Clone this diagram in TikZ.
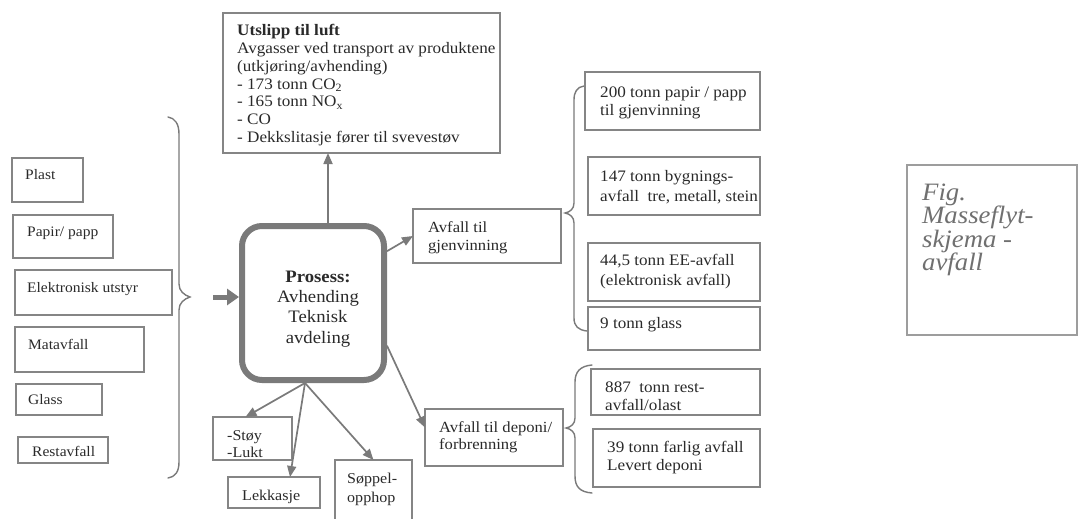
\documentclass[tikz,border=0pt]{standalone}
\usepackage{fontspec}
\setmainfont[FakeStretch=1.07]{Liberation Serif}
\usetikzlibrary{arrows.meta,calc}
\definecolor{bordergray}{HTML}{858585}
\definecolor{txtc}{HTML}{2A2A2A}
\definecolor{procgray}{HTML}{7A7A7A}
\definecolor{figgray}{HTML}{707070}
\newcommand\fr{\rule{0pt}{.72em}}
\begin{document}
\begin{tikzpicture}[x=1pt,y=-1pt,
  box/.style={draw=bordergray, line width=1.4pt, anchor=north west, inner sep=0pt, outer sep=0pt},
  txtn/.style={anchor=north west, inner sep=0pt, align=left, text=txtc},
  arr/.style={draw=procgray, line width=1.7pt, -{Triangle[length=11pt,width=9pt]}, fill=procgray},
  brace/.style={draw=procgray, line width=1.4pt, line cap=round}]
\fill[white] (0,0) rectangle (1079,519);
\useasboundingbox (0,0) rectangle (1079,519);

% ---- top box: emissions
\node[box, minimum width=277pt, minimum height=140pt] (luft) at (223,13) {};
\node[txtn, font=\fontsize{16}{17.8}\selectfont] (luftt) at (237,24)
 {\fr\textbf{Utslipp til luft}\\Avgasser ved transport av produktene\\(utkjøring/avhending)\\- 173 tonn CO\textsubscript{2}\\- 165 tonn NO\textsubscript{x}\\- CO\\- Dekkslitasje fører til svevestøv};

% ---- process box
\node[draw=procgray, line width=6pt, rounded corners=20pt, minimum width=142pt, minimum height=154pt, inner sep=0pt] (proc) at (313,303) {};
\node[align=center, text=txtc, font=\fontsize{17.5}{20.3}\selectfont, inner sep=0pt] (proct) at (318,309)
 {\textbf{Prosess:}\\Avhending\\Teknisk\\avdeling};

% ---- left input boxes
\node[box, minimum width=71pt, minimum height=44pt] (plast) at (12,158) {};
\node[txtn, font=\fontsize{14.5}{17}\selectfont] (plastt) at (25,169.3) {\fr Plast};
\node[box, minimum width=100pt, minimum height=43pt] (papir) at (13,215) {};
\node[txtn, font=\fontsize{14.5}{17}\selectfont] (papirt) at (27,226.3) {\fr Papir/ papp};
\node[box, minimum width=157pt, minimum height=45pt] (elek) at (15,270) {};
\node[txtn, font=\fontsize{14.5}{17}\selectfont] (elekt) at (27,282.3) {\fr Elektronisk utstyr};
\node[box, minimum width=129pt, minimum height=45pt] (mat) at (15,327) {};
\node[txtn, font=\fontsize{14.5}{17}\selectfont] (matt) at (28,339.3) {\fr Matavfall};
\node[box, minimum width=86pt, minimum height=31pt] (glass) at (16,384) {};
\node[txtn, font=\fontsize{14.5}{17}\selectfont] (glasst) at (28,394.3) {\fr Glass};
\node[box, minimum width=90pt, minimum height=26pt] (rest) at (18,437) {};
\node[txtn, font=\fontsize{14.5}{17}\selectfont] (restt) at (32,446.3) {\fr Restavfall};

% left brace
\draw[brace] (168,117) .. controls (175,118) and (179,124) .. (179,134) -- (179,284)
  .. controls (179,291) and (184,295) .. (190,297)
  .. controls (184,299) and (179,303) .. (179,310) -- (179,462)
  .. controls (179,472) and (175,477) .. (168,478);

% input arrow
\draw[draw=procgray, line width=5pt, -{Triangle[length=12pt,width=16pt]}, fill=procgray]
  ([xshift=-26pt,yshift=6pt]proc.west) -- ([yshift=6pt]proc.west);

% arrow up
\draw[arr] ([xshift=15pt]proc.north) -- ([xshift=15pt]proc.north |- luft.south);

% ---- recycling
\node[box, minimum width=148pt, minimum height=54pt] (gjen) at (413,209) {};
\node[txtn, font=\fontsize{15.5}{18}\selectfont] (gjent) at (428,221) {\fr Avfall til\\gjenvinning};
\draw[arr] (proc.35) -- (gjen.west);

\draw[brace] (584,86) .. controls (577,87) and (574,92) .. (574,100) -- (574,203)
  .. controls (574,209) and (570,212) .. (565,213)
  .. controls (570,214) and (574,217) .. (574,223) -- (574,318)
  .. controls (574,326) and (578,330) .. (587,331);

\node[box, minimum width=175pt, minimum height=58pt] (p200) at (585,72) {};
\node[txtn, font=\fontsize{16}{18}\selectfont] (p200t) at (600,86) {\fr 200 tonn papir / papp\\til gjenvinning};
\node[box, minimum width=172pt, minimum height=58pt] (b147) at (588,157) {};
\node[txtn, font=\fontsize{16}{20}\selectfont] (b147t) at (600,170) {\fr 147 tonn bygnings-\\avfall\ \ tre, metall, stein};
\node[box, minimum width=172pt, minimum height=58pt] (ee) at (588,243) {};
\node[txtn, font=\fontsize{16}{20}\selectfont] (eet) at (600,254) {\fr 44,5 tonn EE-avfall\\(elektronisk avfall)};
\node[box, minimum width=172pt, minimum height=43pt] (gl9) at (588,307) {};
\node[txtn, font=\fontsize{16}{18}\selectfont] (gl9t) at (600,317) {\fr 9 tonn glass};

% ---- landfill / incineration
\node[box, minimum width=138pt, minimum height=57pt] (dep) at (425,409) {};
\node[txtn, font=\fontsize{15.5}{17}\selectfont] (dept) at (439,421) {\fr Avfall til deponi/\\forbrenning};
\draw[arr] (proc.-30) -- ([yshift=10pt]dep.west);

\draw[brace] (592,365) .. controls (580,366) and (575,372) .. (575,382) -- (575,418)
  .. controls (575,424) and (571,427) .. (566,428)
  .. controls (571,429) and (575,432) .. (575,438) -- (575,476)
  .. controls (575,487) and (580,492) .. (592,493);

\node[box, minimum width=169pt, minimum height=46pt] (r887) at (591,369) {};
\node[txtn, font=\fontsize{16}{18}\selectfont] (r887t) at (605,381) {\fr 887\ \ tonn rest-\\avfall/olast};
\node[box, minimum width=167pt, minimum height=58pt] (r39) at (593,429) {};
\node[txtn, font=\fontsize{16}{18}\selectfont] (r39t) at (607,441) {\fr 39 tonn farlig avfall\\Levert deponi};

% ---- bottom boxes
\node[box, minimum width=79pt, minimum height=43pt] (stoy) at (213,417) {};
\node[txtn, font=\fontsize{15}{17}\selectfont] (stoyt) at (227,429) {\fr -Støy\\-Lukt};
\node[box, minimum width=92pt, minimum height=31pt] (lekk) at (228,477) {};
\node[txtn, font=\fontsize{15}{17}\selectfont] (lekkt) at (242,489) {\fr Lekkasje};
\node[box, minimum width=77pt, minimum height=63pt] (sopp) at (335,460) {};
\node[txtn, font=\fontsize{15}{19}\selectfont] (soppt) at (347,472) {\fr Søppel-\\opphop};

\coordinate (po) at ([xshift=-8pt]proc.south);
\draw[arr] (po) -- ([xshift=-7pt]stoy.north);
\draw[arr] (po) -- ([xshift=16pt]lekk.north);
\draw[arr] (po) -- (sopp.north);

% ---- figure caption box
\node[box, draw=bordergray!80, line width=1.2pt, minimum width=170pt, minimum height=170pt] (fig) at (907,165) {};
\node[txtn, text=figgray, font=\fontsize{25}{23.5}\selectfont\itshape] (figt) at (922,182)
 {\fr Fig.\\Masseflyt-\\skjema -\\avfall};
\end{tikzpicture}
\end{document}
